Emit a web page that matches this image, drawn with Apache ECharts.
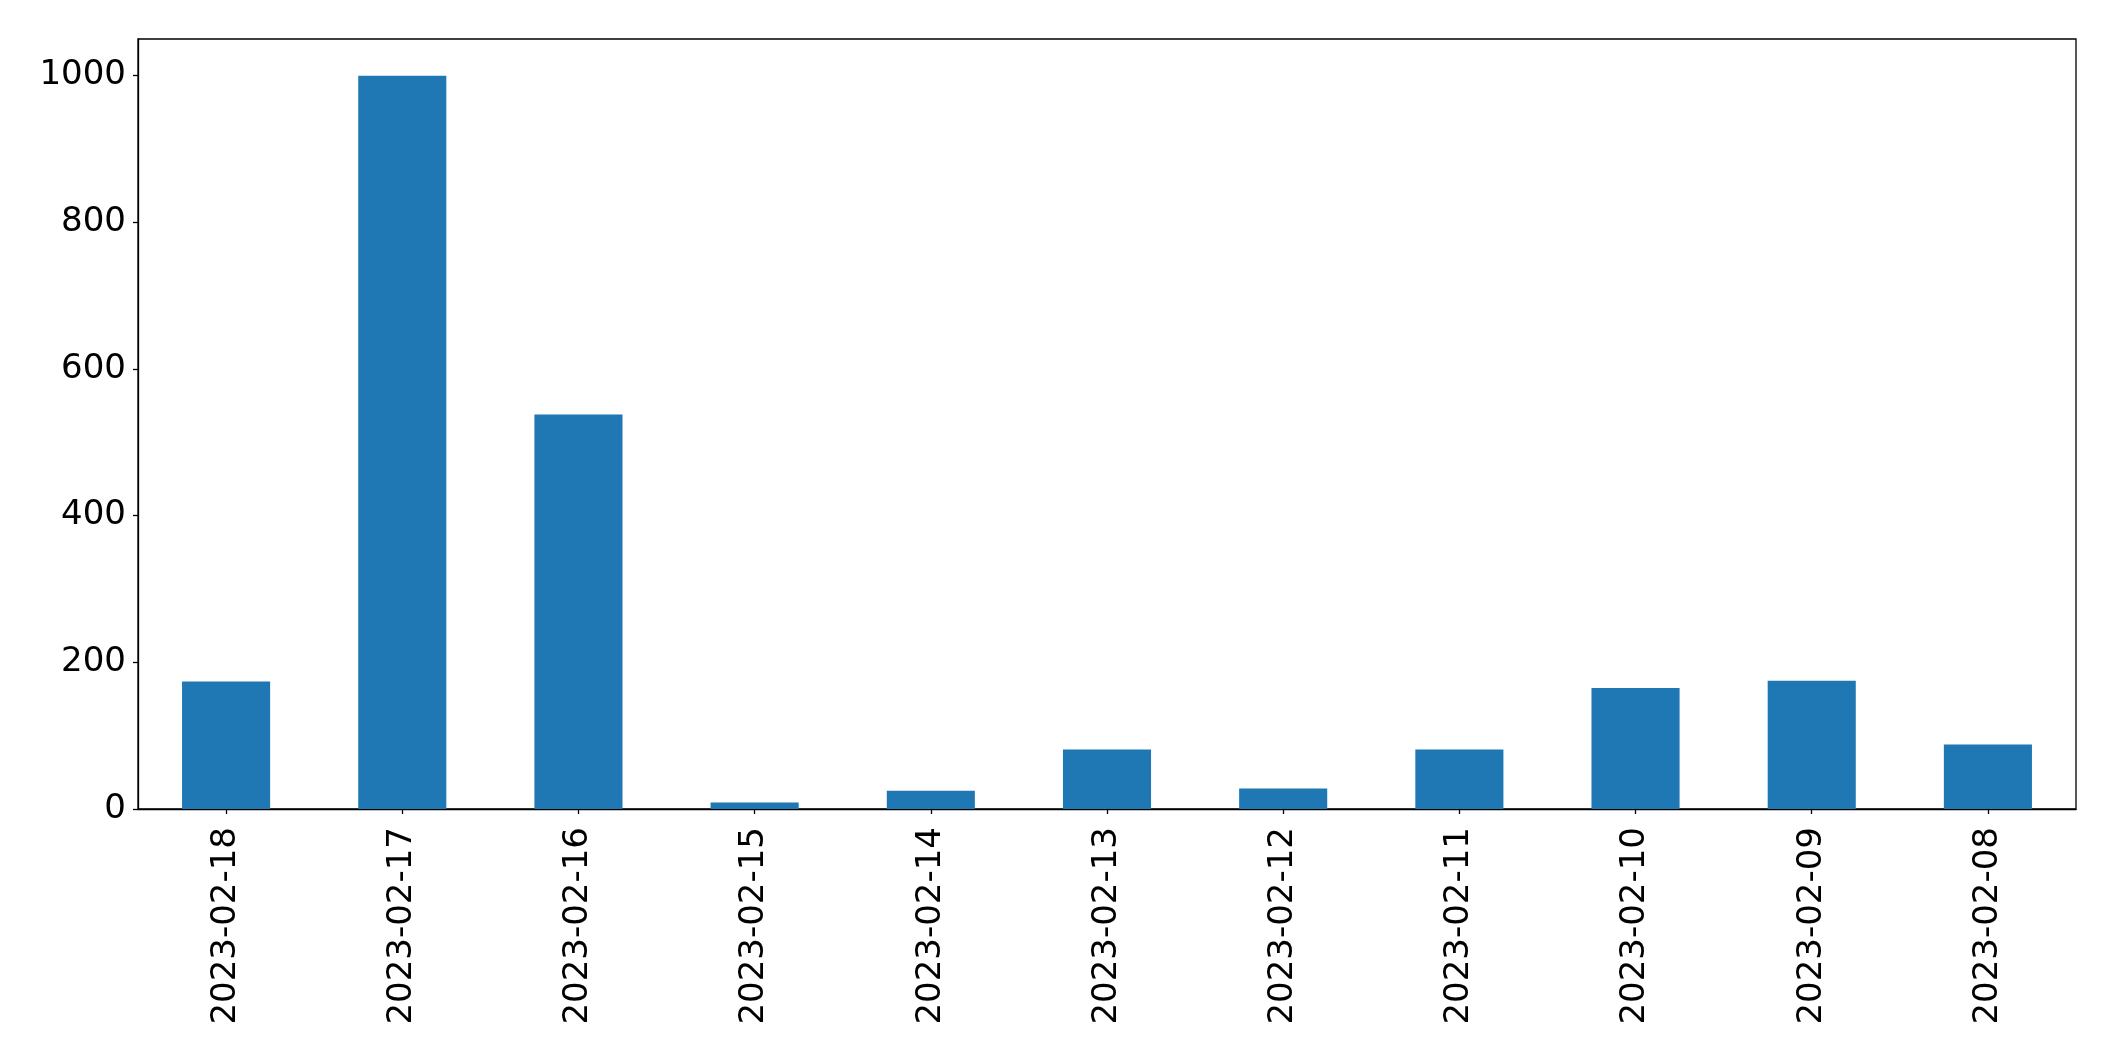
<!DOCTYPE html>
<html>
<head>
<meta charset="utf-8">
<script src="https://cdn.jsdelivr.net/npm/echarts@6/dist/echarts.min.js"></script>
<style>
html,body{margin:0;padding:0;background:#fff;}
#chart{width:2115px;height:1061px;}
</style>
</head>
<body>
<div id="chart"></div>
<script>
const categories = ["2023-02-18","2023-02-17","2023-02-16","2023-02-15","2023-02-14","2023-02-13","2023-02-12","2023-02-11","2023-02-10","2023-02-09","2023-02-08"];
const values = [174, 1000, 538, 9, 25, 81, 28, 81, 165, 175, 88];
const yTicks = [0, 200, 400, 600, 800, 1000];

const chart = echarts.init(document.getElementById('chart'), null, {renderer: 'canvas'});
const font = 'DejaVu Sans';
chart.setOption({
  animation: false,
  backgroundColor: '#ffffff',
  grid: {
    left: 138, right: 39, top: 39, bottom: 252,
    show: true, borderColor: '#000', borderWidth: 1.3, backgroundColor: 'transparent'
  },
  xAxis: {
    type: 'category',
    data: categories,
    boundaryGap: true,
    axisLine: {show: true, lineStyle: {color: '#000', width: 1.3}},
    axisTick: {show: true, alignWithLabel: true, length: 5, lineStyle: {color: '#000', width: 1.3}},
    axisLabel: {rotate: 90, margin: 18, fontFamily: font, fontSize: 34, color: '#000', interval: 0},
    splitLine: {show: false}
  },
  yAxis: {
    type: 'value',
    min: 0, max: 1050, interval: 200,
    axisLine: {show: true, lineStyle: {color: '#000', width: 1.3}},
    axisTick: {show: true, length: 5, lineStyle: {color: '#000', width: 1.3}},
    axisLabel: {
      margin: 12, fontFamily: font, fontSize: 34, color: '#000',
      showMaxLabel: false,
      formatter: v => yTicks.includes(v) ? String(v) : ''
    },
    splitLine: {show: false}
  },
  series: [{
    type: 'bar',
    data: values,
    barWidth: '50%',
    itemStyle: {color: '#1f77b4'}
  }]
});
</script>
</body>
</html>
